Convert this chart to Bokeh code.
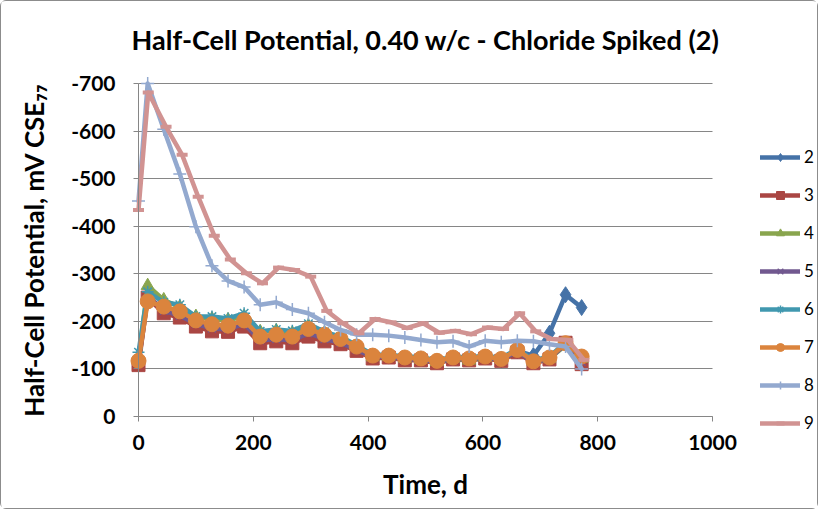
from bokeh.plotting import figure
from bokeh.models import Range1d, FixedTicker, Legend, LegendItem, Label
from bokeh.embed import file_html
from bokeh.resources import INLINE

# ---------------- data ----------------
days = [0, 16, 44, 72, 100, 128, 156, 184, 212, 240, 268, 296, 324, 352, 380,
        408, 436, 464, 492, 520, 548, 576, 604, 632, 660, 688, 716, 744, 772]
days_9 = [0, 17, 48, 76, 104, 132, 160, 188, 216, 244, 272, 300, 328, 356, 384,
          412, 440, 468, 496, 524, 552, 580, 608, 636, 664, 692, 720, 748, 776]

s2 = [-112, -250, -225, -215, -198, -188, -186, -198, -163, -167, -163, -178, -166, -158, -143,
      -126, -127, -122, -121, -116, -123, -121, -125, -120, -138, -128, -175, -256, -229]
s3 = [-108, -250, -217, -208, -189, -179, -178, -189, -154, -158, -154, -168, -158, -152, -138,
      -122, -124, -118, -118, -112, -120, -118, -122, -117, -135, -112, -120, -155, -110]
s4 = [-120, -275, -245, -230, -210, -205, -203, -210, -178, -180, -175, -190, -175, -165, -148,
      -125, -126, -122, -120, -115, -122, -118, -124, -120, -138, -115, -122, -150, -122]
s5 = [-115, -255, -222, -212, -195, -185, -183, -195, -160, -163, -160, -175, -163, -155, -140,
      -125, -126, -120, -120, -114, -122, -120, -124, -119, -137, -114, -122, -152, -115]
s6 = [-135, -262, -240, -235, -210, -210, -206, -217, -179, -183, -180, -195, -178, -168, -150,
      -130, -130, -126, -125, -118, -126, -124, -128, -123, -142, -118, -126, -156, -128]
s7 = [-117, -242, -231, -221, -202, -194, -191, -202, -168, -172, -168, -184, -172, -163, -147,
      -128, -128, -124, -122, -117, -124, -122, -126, -121, -140, -116, -124, -154, -126]
s8 = [-453, -700, -604, -510, -399, -317, -285, -272, -235, -240, -225, -217, -198, -182, -172,
      -172, -170, -166, -161, -156, -158, -147, -159, -156, -159, -158, -152, -147, -100]
s9 = [-434, -681, -609, -550, -462, -380, -330, -301, -280, -313, -308, -294, -222, -196, -175,
      -205, -198, -186, -196, -176, -180, -173, -187, -184, -217, -179, -163, -161, -119]

series_names = ["2", "3", "4", "5", "6", "7", "8", "9"]
x_ticks = [0, 200, 400, 600, 800, 1000]
y_ticks = [0, -100, -200, -300, -400, -500, -600, -700]
y_tick_labels = ["0", "-100", "-200", "-300", "-400", "-500", "-600", "-700"]

title_text = "Half-Cell Potential, 0.40 w/c - Chloride Spiked (2)"
x_label_text = "Time, d"
y_label_text = "Half-Cell Potential, mV CSE\u2087\u2087"

# ---------------- layout (pixels) ----------------
W, H = 818, 509
PLOT_L, PLOT_R, PLOT_T, PLOT_B = 137, 711, 82, 415
X_MIN, X_MAX = x_ticks[0], x_ticks[-1]
Y_TOP, Y_BOT = y_ticks[-1], y_ticks[0]
px_per_x = (PLOT_R - PLOT_L) / (X_MAX - X_MIN)
px_per_y = (PLOT_B - PLOT_T) / (Y_BOT - Y_TOP)

FONT = "Lato"
GRID = "#868686"
colors = ["#4572A7", "#AA4643", "#89A54E", "#71588F", "#4198AF", "#DB843D", "#93A9CF", "#D19392"]
markers = ["diamond", "square", "triangle", "x", "asterisk", "circle", "cross", "dash"]
msizes = [16, 13, 13, 11, 12, 15, 13, 11]

# the frame covers the whole canvas; axes are pinned at 0 so that texts outside the
# plot area (title, legend) are not clipped
x_range = Range1d(X_MIN - PLOT_L / px_per_x, X_MIN + (W - PLOT_L) / px_per_x)
y_range = Range1d(Y_BOT + (H - PLOT_B) / px_per_y, Y_BOT - PLOT_B / px_per_y)

p = figure(width=W, height=H, output_backend="svg", toolbar_location=None,
           x_range=x_range, y_range=y_range,
           min_border_left=0, min_border_right=0, min_border_top=0, min_border_bottom=0)
p.title.visible = False
p.styles = {"border": "1px solid #8c8c8c", "border-radius": "6px", "box-sizing": "border-box"}
p.background_fill_color = "white"
p.border_fill_color = "white"
p.outline_line_color = None

p.xgrid.grid_line_color = None
p.ygrid.grid_line_color = GRID
p.ygrid.grid_line_width = 1
try:
    p.ygrid.cross_bounds = (X_MIN, X_MAX)
    manual_grid = False
except Exception:
    manual_grid = True

p.xaxis.ticker = FixedTicker(ticks=x_ticks)
p.yaxis.ticker = FixedTicker(ticks=y_ticks)
p.yaxis.major_label_overrides = {t: l for t, l in zip(y_ticks, y_tick_labels)}
p.xaxis.fixed_location = Y_BOT
p.yaxis.fixed_location = X_MIN
p.xaxis.bounds = (X_MIN, X_MAX)
p.yaxis.bounds = (Y_TOP, Y_BOT)
for ax in (p.xaxis, p.yaxis):
    ax.axis_line_color = GRID
    ax.major_tick_line_color = GRID
    ax.major_tick_out = 5
    ax.major_tick_in = 0
    ax.minor_tick_line_color = None
    ax.major_label_text_font = FONT
    ax.major_label_text_font_style = "bold"
    ax.major_label_text_font_size = "21px"
    ax.major_label_text_color = "black"
    ax.axis_label_text_font = FONT
    ax.axis_label_text_font_style = "bold"
    ax.axis_label_text_font_size = "26px"
    ax.axis_label_text_color = "black"
p.xaxis.major_label_standoff = 13
p.yaxis.major_label_standoff = 18
p.xaxis.axis_label = x_label_text
p.yaxis.axis_label = y_label_text
p.xaxis.axis_label_standoff = 15
p.yaxis.axis_label_standoff = 18

if manual_grid:
    p.ygrid.grid_line_color = None
    p.segment(x0=[X_MIN] * len(y_ticks), x1=[X_MAX] * len(y_ticks), y0=y_ticks, y1=y_ticks,
              line_color=GRID, line_width=1)

data_x = [days, days, days, days, days, days, days, days_9]
data_y = [s2, s3, s4, s5, s6, s7, s8, s9]

items = []
for name, xs, ys, c, m, ms in zip(series_names, data_x, data_y, colors, markers, msizes):
    ln = p.line(xs, ys, line_color=c, line_width=4.5, line_join="round", line_cap="round")
    if m in ("x", "asterisk", "cross"):
        sc = p.scatter(xs, ys, marker=m, size=ms, line_color=c, line_width=1.5, fill_color=None)
    elif m == "dash":
        sc = p.scatter(xs, ys, marker=m, size=ms, line_color=c, line_width=4, fill_color=None)
    else:
        sc = p.scatter(xs, ys, marker=m, size=ms, line_color=c, line_width=1, fill_color=c)
    items.append(LegendItem(label=name, renderers=[ln, sc]))

# legend: top-left corner at (759, 153) px; location gives its bottom-left from the frame bottom
legend = Legend(items=items, location=(759, H - 432))
legend.border_line_color = None
legend.background_fill_alpha = 0
legend.padding = 0
legend.margin = 0
legend.glyph_width = 40
legend.glyph_height = 20
legend.label_height = 20
legend.spacing = 17
legend.label_standoff = 4
legend.label_text_font = FONT
legend.label_text_font_size = "17px"
legend.label_text_color = "black"
p.add_layout(legend)

p.add_layout(Label(x=(PLOT_L + PLOT_R) / 2, y=H - 38, x_units="screen", y_units="screen",
                   text=title_text, text_font=FONT, text_font_style="bold", text_font_size="27px",
                   text_align="center", text_baseline="middle", text_color="black"))

open("out.html", "w").write(file_html(p, INLINE))
